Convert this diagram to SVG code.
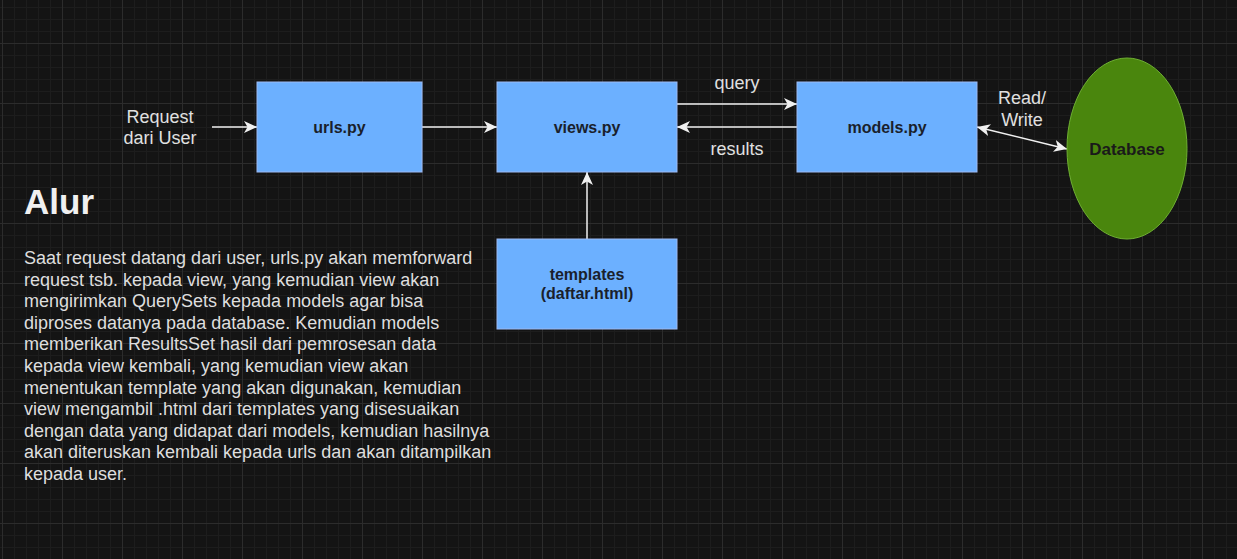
<svg xmlns="http://www.w3.org/2000/svg" width="1237" height="559" viewBox="0 0 1237 559">
<defs>
<pattern id="grid" x="2" y="43" width="60" height="60" patternUnits="userSpaceOnUse">
<path d="M12.5,0V60M24.5,0V60M36.5,0V60M48.5,0V60M0,12.5H60M0,24.5H60M0,36.5H60M0,48.5H60" stroke="#1d1d1d" stroke-width="1" fill="none"/>
<path d="M0.5,0V60M0,0.5H60" stroke="#2c2c2c" stroke-width="1" fill="none"/>
</pattern>
<marker id="arr" markerUnits="userSpaceOnUse" markerWidth="14" markerHeight="14" viewBox="0 0 14 14" refX="13" refY="7" orient="auto-start-reverse">
<path d="M0,1 L13,7 L0,13 L3.5,7 Z" fill="#f0f0f0"/>
</marker>
<style>
.box{fill:#6cb0ff;stroke:#9bb9f3;stroke-width:1}
.bt{font-family:"Liberation Sans",Arial,sans-serif;font-weight:bold;font-size:16px;fill:#1a1f2c;text-anchor:middle}
.lbl{font-family:"Liberation Sans",Arial,sans-serif;font-size:18px;fill:#e0e0e0;text-anchor:middle}
.edge{stroke:#f0f0f0;stroke-width:1.5;fill:none;marker-end:url(#arr)}
.para{font-family:"Liberation Sans",Arial,sans-serif;font-size:18px;fill:#dedede}
</style>
</defs>
<rect width="1237" height="559" fill="#141414"/>
<rect width="1237" height="559" fill="url(#grid)"/>

<g id="connectors">
<line class="edge" x1="212" y1="127" x2="257" y2="127"/>
<line class="edge" x1="422" y1="127" x2="497" y2="127"/>
<line class="edge" x1="677" y1="104" x2="797" y2="104"/>
<line class="edge" x1="797" y1="127" x2="677" y2="127"/>
<line class="edge" x1="587" y1="239" x2="587" y2="172"/>
<line class="edge" x1="977" y1="127" x2="1067" y2="149" style="marker-start:url(#arr)"/>
<text class="lbl" x="737" y="88.5">query</text>
<text class="lbl" x="737" y="155">results</text>
<text class="lbl" x="1022" y="104">Read/</text>
<text class="lbl" x="1022" y="125.5">Write</text>
</g>

<g id="request">
<text class="lbl" x="160" y="123">Request</text>
<text class="lbl" x="160" y="144">dari User</text>
</g>

<g id="urls">
<rect class="box" x="257" y="82" width="165" height="90"/>
<text class="bt" x="339.5" y="133">urls.py</text>
</g>

<g id="views">
<rect class="box" x="497" y="82" width="180" height="90"/>
<text class="bt" x="587" y="133">views.py</text>
</g>

<g id="models">
<rect class="box" x="797" y="82" width="180" height="90"/>
<text class="bt" x="887" y="133">models.py</text>
</g>

<g id="templates">
<rect class="box" x="497" y="239" width="180" height="90"/>
<text class="bt" x="587" y="279.5">templates</text>
<text class="bt" x="587" y="299">(daftar.html)</text>
</g>

<g id="database">
<ellipse cx="1127" cy="148.5" rx="60" ry="90.5" fill="#4a860d" stroke="#6eb032" stroke-width="1"/>
<text class="bt" x="1127" y="155" style="font-size:17px;fill:#1a1a1a">Database</text>
</g>

<g id="alur">
<text x="24" y="214" style="font-family:'Liberation Sans',Arial,sans-serif;font-weight:bold;font-size:35px;fill:#f0f0f0">Alur</text>
<text class="para" x="24">
<tspan x="24" y="264">Saat request datang dari user, urls.py akan memforward</tspan>
<tspan x="24" y="285.6">request tsb. kepada view, yang kemudian view akan</tspan>
<tspan x="24" y="307.2">mengirimkan QuerySets kepada models agar bisa</tspan>
<tspan x="24" y="328.8">diproses datanya pada database. Kemudian models</tspan>
<tspan x="24" y="350.4">memberikan ResultsSet hasil dari pemrosesan data</tspan>
<tspan x="24" y="372">kepada view kembali, yang kemudian view akan</tspan>
<tspan x="24" y="393.6">menentukan template yang akan digunakan, kemudian</tspan>
<tspan x="24" y="415.2">view mengambil .html dari templates yang disesuaikan</tspan>
<tspan x="24" y="436.8">dengan data yang didapat dari models, kemudian hasilnya</tspan>
<tspan x="24" y="458.4">akan diteruskan kembali kepada urls dan akan ditampilkan</tspan>
<tspan x="24" y="480">kepada user.</tspan>
</text>
</g>
</svg>
